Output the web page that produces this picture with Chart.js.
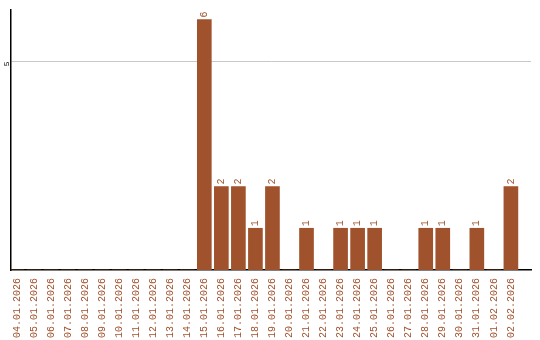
<!DOCTYPE html>
<html>
<head>
<meta charset="utf-8">
<script src="https://cdn.jsdelivr.net/npm/chart.js@4.4.1/dist/chart.umd.min.js"></script>
<style>
  html, body { margin: 0; padding: 0; background: #fff; }
  #wrap { width: 540px; height: 340px; }
</style>
</head>
<body>
<div id="wrap"><canvas id="grafico"></canvas></div>
<script>
const fechas = ["04.01.2026", "05.01.2026", "06.01.2026", "07.01.2026", "08.01.2026", "09.01.2026",
  "10.01.2026", "11.01.2026", "12.01.2026", "13.01.2026", "14.01.2026", "15.01.2026", "16.01.2026",
  "17.01.2026", "18.01.2026", "19.01.2026", "20.01.2026", "21.01.2026", "22.01.2026", "23.01.2026",
  "24.01.2026", "25.01.2026", "26.01.2026", "27.01.2026", "28.01.2026", "29.01.2026", "30.01.2026",
  "31.01.2026", "01.02.2026", "02.02.2026"];
const cantidades = [0, 0, 0, 0, 0, 0, 0, 0, 0, 0, 0, 6, 2, 2, 1, 2, 0, 1, 0, 1, 1, 1, 0, 0, 1, 1, 0, 1, 0, 2];
const marcasY = [5];

const cafe = "#A0522D";
const fuente = "'Liberation Mono', monospace";

// etiquetas de valor encima de cada barra (giradas)
const etiquetasBarras = {
  id: "etiquetasBarras",
  afterDatasetsDraw(chart) {
    const ctx = chart.ctx;
    const meta = chart.getDatasetMeta(0);
    ctx.save();
    ctx.fillStyle = cafe;
    ctx.font = "10px " + fuente;
    ctx.textAlign = "left";
    ctx.textBaseline = "middle";
    meta.data.forEach((barra, i) => {
      const v = cantidades[i];
      if (!v) return;
      ctx.save();
      ctx.translate(barra.x, barra.y - 2);
      ctx.rotate(-Math.PI / 2);
      ctx.fillText(String(v), 0, 0);
      ctx.restore();
    });
    ctx.restore();
  }
};

new Chart(document.querySelector("#grafico"), {
  type: "bar",
  data: {
    datasets: [{
      data: cantidades.map((v, i) => ({ x: i, y: v })),
      backgroundColor: cafe,
      barThickness: 14
    }]
  },
  options: {
    responsive: true,
    maintainAspectRatio: false,
    animation: false,
    layout: { padding: { top: 10, right: 9, left: 0, bottom: 0 } },
    plugins: { legend: { display: false }, tooltip: { enabled: false } },
    scales: {
      x: {
        type: "linear",
        offset: false,
        min: -0.35,
        max: 30.18,
        afterBuildTicks: (scale) => {
          scale.ticks = fechas.map((f, i) => ({ value: i }));
        },
        afterFit: (scale) => { scale.height = 70; },
        grid: { display: false },
        border: { display: true, color: "#000", width: 1.5 },
        ticks: {
          autoSkip: false,
          minRotation: 90,
          maxRotation: 90,
          padding: 0,
          labelOffset: 0,
          color: cafe,
          font: { family: fuente, size: 10 },
          callback: (v) => fechas[v]
        }
      },
      y: {
        min: 0,
        max: 6.23,
        afterBuildTicks: (scale) => {
          scale.ticks = marcasY.map((v) => ({ value: v }));
        },
        afterFit: (scale) => { scale.width = 11; },
        grid: { color: "#c8c8c8", drawTicks: false },
        border: { display: true, color: "#000", width: 1.5 },
        ticks: {
          minRotation: 90,
          maxRotation: 90,
          padding: 4,
          color: "#000",
          font: { family: fuente, size: 8 }
        }
      }
    }
  },
  plugins: [etiquetasBarras]
});
</script>
</body>
</html>
